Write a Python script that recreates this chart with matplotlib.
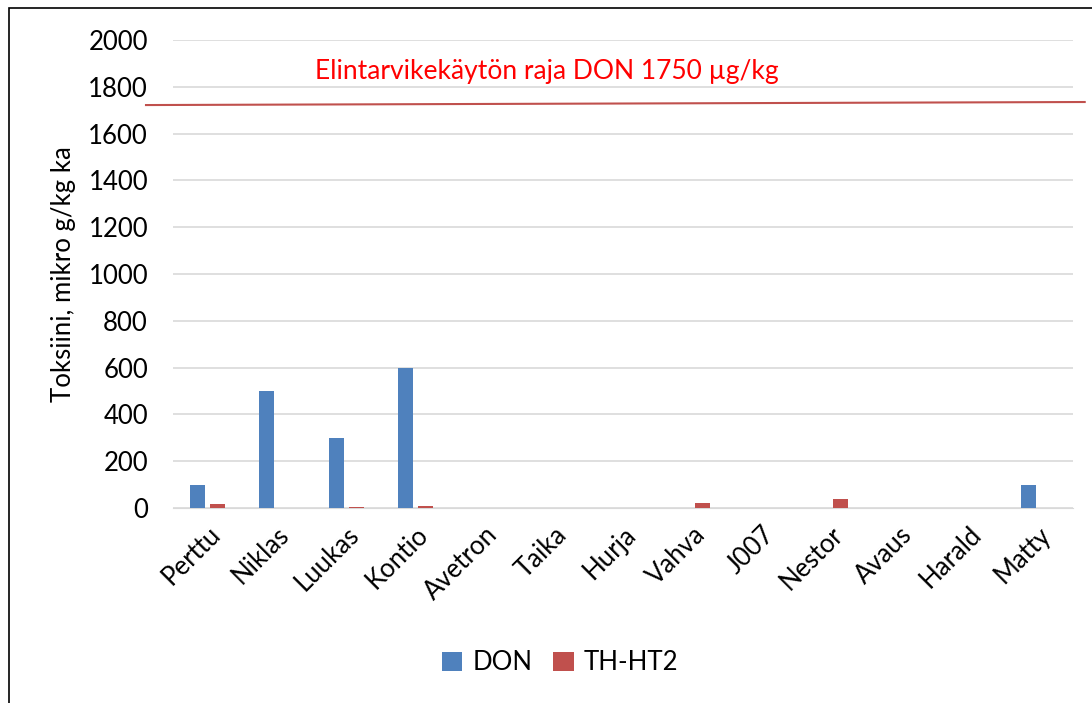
import matplotlib.pyplot as plt
import matplotlib.patches as patches
import numpy as np

varieties = ['Perttu', 'Niklas', 'Luukas', 'Kontio', 'Avetron', 'Taika', 'Hurja',
             'Vahva', 'J007', 'Nestor', 'Avaus', 'Harald', 'Matty']
don = [100, 500, 300, 600, 0, 0, 0, 0, 0, 0, 0, 0, 100]
th_ht2 = [18, 0, 3, 8, 0, 0, 2, 20, 0, 38, 0, 0, 0]
limit_start, limit_end = 1722, 1735
limit_text = 'Elintarvikekäytön raja DON 1750 µg/kg'

plt.rcParams['font.family'] = ['Lato', 'DejaVu Sans']
fs = 18.5

fig = plt.figure(figsize=(10.92, 7.03), dpi=100)
ax = fig.add_axes([173/1092, 1 - 508/703, 900/1092, 468/703])

x = np.arange(len(varieties))
w = 0.217
ax.bar(x - 0.145, don, w, color='#4f81bd', label='DON', zorder=3)
ax.bar(x + 0.145, th_ht2, w, color='#c0504d', label='TH-HT2', zorder=3)

ax.set_xlim(-0.5, len(varieties) - 0.5)
ax.set_ylim(0, 2000)
ax.set_yticks(range(0, 2001, 200))
ax.yaxis.grid(True, color='#d9d9d9', linewidth=1.2, zorder=0)
for s in ax.spines.values():
    s.set_visible(False)
ax.spines['bottom'].set_visible(True)
ax.spines['bottom'].set_color('#d9d9d9')
ax.tick_params(length=0, labelsize=fs, pad=10)
ax.tick_params(axis='y', pad=18)
ax.set_xticks(x)
ax.set_xticklabels(varieties, rotation=45, ha='right', rotation_mode='anchor')
ax.set_ylabel('Toksiini, mikro g/kg ka', fontsize=fs)
ax.yaxis.set_label_coords(-0.108, 0.5)

# limit line drawn a bit past the plot area, slightly sloped as in the original
ax.plot([-0.03, 1.013], [limit_start, limit_end], color='#c0504d', linewidth=1.5,
        transform=ax.get_yaxis_transform(), clip_on=False, zorder=4)
ax.text(315/1092, 1 - 72/703, limit_text, transform=fig.transFigure, color='#ff0000',
        fontsize=fs + 0.5, va='center', ha='left')

ax.legend(loc='center', bbox_to_anchor=(560/1092, 1 - 663/703), bbox_transform=fig.transFigure,
          ncol=2, frameon=False, fontsize=fs, handlelength=0.8, handleheight=0.8,
          columnspacing=0.8, handletextpad=0.4, borderpad=0)

fig.patches.append(patches.Rectangle((9/1092, -0.1), 1.2, 1 - 8/703 + 0.1, fill=False,
                                     edgecolor='black', linewidth=1.2, transform=fig.transFigure))

fig.savefig('out.png', dpi=100)
